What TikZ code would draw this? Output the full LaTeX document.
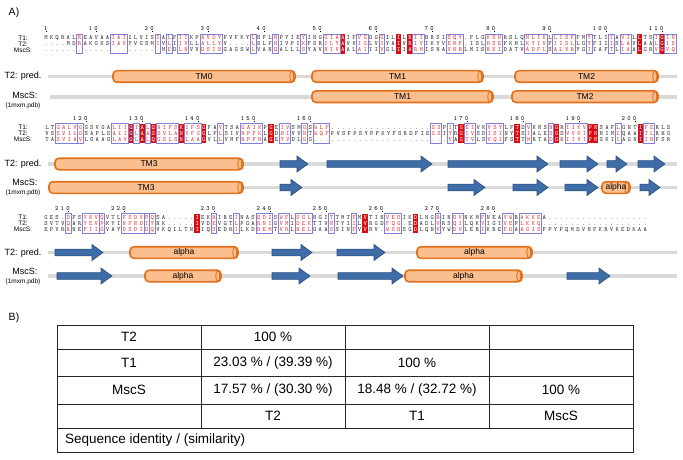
\documentclass[tikz,border=0pt]{standalone}
\usepackage{fontspec}
\setmainfont{Liberation Sans}
\usepackage{xcolor}
\usepackage{tikz}
\definecolor{seqgray}{HTML}{2E2E2E}
\definecolor{simred}{HTML}{E23A3A}
\definecolor{idred}{HTML}{D80C12}
\definecolor{framebl}{HTML}{8080DC}
\definecolor{helixfill}{HTML}{FBBE8E}
\definecolor{helixline}{HTML}{E2701C}
\definecolor{strandfill}{HTML}{3F6DA8}
\definecolor{strandline}{HTML}{2B5080}
\definecolor{trackgray}{HTML}{D9D9D9}
\definecolor{gridink}{HTML}{262626}

\newcommand\seqfont{\ttfamily\fontsize{6.4}{7}\selectfont}

% one residue per column, coloured by the marks of the current block
\newcount\colno
\def\seqloop#1{\ifx#1\relax\else\global\advance\colno by 1 %
  \ifcsname id@\blk @\the\colno\endcsname\hbox to 5.6pt{\hss\color{white}#1\hss}%
  \else\ifcsname sim@\blk @\the\colno\endcsname\hbox to 5.6pt{\hss\color{simred}#1\hss}%
  \else\hbox to 5.6pt{\hss#1\hss}\fi\fi\expandafter\seqloop\fi}
\newcommand\seqline[1]{\global\colno=0 \expandafter\seqloop#1\relax}
\def\rulerloop#1{\ifx#1\relax\else\hbox to 5.6pt{\hss#1\hss}\expandafter\rulerloop\fi}
\newcommand\rulerline[1]{\expandafter\rulerloop#1\relax}

\tikzset{
  panel/.style={font=\fontsize{10.5}{10.5}\selectfont, inner sep=0pt},
  seqtxt/.style={anchor=base west, inner sep=0pt, font=\seqfont, text=seqgray},
  ruler/.style={anchor=base east, inner sep=0pt, font=\seqfont, text=black},
  rulertick/.style={line width=0.4pt},
  seqname/.style={font=\fontsize{6.5}{6.5}\selectfont, inner sep=0pt},
  trackname/.style={font=\fontsize{9}{9}\selectfont, inner sep=0pt},
  pdbname/.style={font=\fontsize{6.5}{6.5}\selectfont, inner sep=0pt},
  track/.style={draw=trackgray, line width=3.6pt},
  helixbar/.style={draw=helixline, fill=helixfill, line width=1.6pt, rounded corners=4pt},
  helixcap/.style={draw=helixline, line width=0.9pt},
  helixlab/.style={font=\fontsize{8.5}{8.5}\selectfont, inner sep=0pt},
  strand/.style={draw=strandline, fill=strandfill, line width=0.6pt},
  simframe/.style={draw=framebl, line width=0.6pt},
  cell/.style={font=\fontsize{13.5}{13.5}\selectfont, inner sep=0pt},
  grid/.style={draw=gridink, line width=0.8pt}
}

% #1 id, #2 x of column 1, #3 y of T1 row, #4-#6 rows, #7 frames, #8 identical columns, #9 ruler
\newcommand\alignblock[9]{%
  \def\blk{#1}\def\rowA{#4}\def\rowB{#5}\def\rowC{#6}%
  \pgfmathsetmacro\ftop{#3-3.8}%
  \pgfmathsetmacro\fbot{#3+15.8}%
  \foreach \a/\b in {#7}{\foreach \k in {\a,...,\b}{\expandafter\gdef\csname sim@#1@\k\endcsname{}}}%
  \foreach \a in {#8}{\expandafter\gdef\csname id@#1@\a\endcsname{}}%
  \foreach \a in {#8}
    \fill[idred] ({#2+(\a-1)*5.6},\ftop) rectangle ({#2+\a*5.6},\fbot);
  \foreach \a/\b in {#7}
    \draw[simframe] ({#2+(\a-1)*5.6},\ftop) rectangle ({#2+\b*5.6},\fbot);
  \node[seqname] (#1nT1) at (23,#3) {T1:};
  \node[seqname] (#1nT2) at (23,{#3+6}) {T2:};
  \node[seqname] (#1nMS) at (23,{#3+12}) {MscS:};
  \node[seqtxt] (#1T1) at (#2,{#3+2}) {\seqline\rowA};
  \node[seqtxt] (#1T2) at (#2,{#3+8}) {\seqline\rowB};
  \node[seqtxt] (#1MS) at (#2,{#3+14}) {\seqline\rowC};
  \foreach \c/\n in {#9}{
    \node[ruler] (#1r\n) at ({#2+\c*5.6},{#3-7.5}) {\rulerline\n};
    \draw[rulertick] ({#2+(\c-0.5)*5.6},{#3-6.9}) -- ++(0,1.2);
  }%
}

\newcommand\helix[5]{%
  \draw[helixbar] (#1,{#3-5.8}) rectangle (#2,{#3+5.8});
  \draw[helixcap] ({#2-3.2},#3) ellipse [x radius=2pt, y radius=5.6pt];
  \node[helixlab] (#5) at ({(#1+#2)/2},#3) {#4};
}
\newcommand\strand[3]{%
  \filldraw[strand] (#1,{#3-3.4}) -- ({#2-11},{#3-3.4}) -- ({#2-11},{#3-8}) -- (#2,#3)
    -- ({#2-11},{#3+8}) -- ({#2-11},{#3+3.4}) -- (#1,{#3+3.4}) -- cycle;
}

\begin{document}
\begin{tikzpicture}[x=1pt,y=-1pt]
  \useasboundingbox (0,0) rectangle (683,460);
  \node[panel] (pA) at (14,13) {A)};
  \node[panel] (pB) at (14,318) {B)};

  % first block, residues 1-112
  \alignblock{bA}{43}{38}
    {MKQRALREAVAAIAIILVISIALFIIKPAVDYFVFKYLNFLHPYIEYINGGIAAIFVGGGGILILRIIRRSISQY.FLGKSNRSLQNLIKLLISFFMYTLIIAVILLTSIGIN}
    {....MDRAKGKSIAVYVGSMIVLIIVLLALLYV....LSLFHIVPIKFSRILYAVVIGLVIYAIVRIVIKYVERF.ISLHSEFKHLKYIVFIISLLGYFIIISLAVLAALGID}
    {.....................MEDLNVVDSINGAGSWLVANQALLLSYAVNIVAALAIIIVGLIIARMISNAVNRLMISRKIDATVADFLSALVRYGIIAFTLIAALGRVGVQ}
    {7/7,13/15,21/21,23/23,25/26,29/32,38/38,42/42,47/47,51/53,57/58,61/61,67/68,73/75,80/82,87/90,92/95,98/98,102/102,104/105,110/110,112/113}
    {54,64,66,107,111}
    {1/1,10/10,20/20,30/30,40/40,50/50,60/60,70/70,81/80,91/90,101/100,111/110}

  \node[trackname] (bApred) at (23,76) {T2: pred.};
  \node[trackname] (bAms) at (25,95) {MscS:};
  \node[pdbname] (bApdb) at (23,106) {(1mxm.pdb)};
  \draw[track] (48,76.5) -- (677,76.5);
  \draw[track] (50,96.7) -- (677,96.7);
  \helix{113}{295}{76.5}{TM0}{bAh0}
  \helix{312}{483}{76.5}{TM1}{bAh1}
  \helix{515}{658}{76.5}{TM2}{bAh2}
  \helix{312}{493}{96.7}{TM1}{bAm1}
  \helix{512}{658}{96.7}{TM2}{bAm2}

  % second block, residues 113-206
  \alignblock{bB}{44}{127.5}
    {LTGALVGGSVGALIIGIALQNIFSKIFSGFAVTSAGAIKPGEIVSMGSWLF..................GSPITGEIVKVSYLFTDVKNSNGRIIKVPNSAFLGNTIFERLS}
    {VSSVILGSAPLSAIIGLAAGSVLANVFGGLFLSIVRPFKLGDHIVVNTWQFPVSFPSYPPKYFSRDFIEGSIYRGIVSDISINYTSIALESGDVVKIPNNIMIQAAITLRHG}
    {TASVIAVLGAAGLAVGLALQGSLSNLAAGVLLVMFRPFRAGEYVDLGG........................VAGTVLSVQIFSTTMRTADGKIIVIPNGKIIAGNIINFSR}
    {3/6,7/7,13/15,17/17,19/19,21/24,26/28,32/32,36/39,43/44,47/47,49/51,70/71,73/73,76/77,80/82,87/87,91/91,94/97,103/103,108/109}
    {16,18,20,25,29,41,75,85,92,98,99,107}
    {8/120,18/130,28/140,38/150,48/160,76/170,86/180,96/190,106/200}

  \node[trackname] (bBpred) at (23,164) {T2: pred.};
  \node[trackname] (bBms) at (25,182.7) {MscS:};
  \node[pdbname] (bBpdb) at (23,193.3) {(1mxm.pdb)};
  \draw[track] (48,164) -- (677,164);
  \draw[track] (48,187.5) -- (677,187.5);
  \helix{55}{243}{164}{TM3}{bBh3}
  \strand{280}{308}{164}
  \strand{327}{432}{164}
  \strand{448}{548}{164}
  \strand{560}{598}{164}
  \strand{607}{627}{164}
  \strand{638}{665}{164}
  \helix{49}{243}{187.5}{TM3}{bBm3}
  \strand{280}{302}{187.5}
  \strand{448}{485}{187.5}
  \strand{513}{548}{187.5}
  \strand{565}{598}{187.5}
  \helix{602}{630}{187.5}{alpha}{bBma}
  \strand{640}{660}{187.5}

  % third block, residues 207-290
  \alignblock{bC}{43}{217.5}
    {GES.DFSYNVQVTLFSDVPQSA.....IEKHIREINASQDISWFLSGLNGITTMTFMVTINVEDIKDLNGRINDVNKMFNEAYWRAKKEA..................}
    {SVTVQARYEVPKYINFNDIYNK.....IVDEVGTLPGARNIGVMIDEKTTVNTYIILVRGDFQG.EDADLVRSQILQKVIGIVEPLKKQ...................}
    {EPVRRNEFIIGVAYDSDIDQVKQILTNIIQSEDRILKDREMTVRLNELGAASSINFVVRV.WSNSGDLQNVYWDVLERIKREFDAAGISFPYPQMDVNFKRVKEDKAA}
    {5/5,8/10,11/11,15/18,19/19,20/20,31/31,35/35,39/41,43/44,46/48,52/52,56/56,62/64,71/71,74/75,79/79,83/84,86/89}
    {28,58,67}
    {5/210,15/220,31/230,41/240,51/250,61/260,71/270,81/280}

  \node[trackname] (bCpred) at (23,252.7) {T2: pred.};
  \node[trackname] (bCms) at (25,271.7) {MscS:};
  \node[pdbname] (bCpdb) at (23,281.7) {(1mxm.pdb)};
  \draw[track] (48,252.5) -- (677,252.5);
  \draw[track] (48,276) -- (677,276);
  \strand{55}{103}{252.5}
  \helix{130}{238}{252.5}{alpha}{bCh1}
  \strand{272}{312}{252.5}
  \strand{337}{385}{252.5}
  \helix{417}{532}{252.5}{alpha}{bCh2}
  \strand{57}{112}{276}
  \helix{145}{221}{276}{alpha}{bCm1}
  \strand{272}{310}{276}
  \strand{338}{403}{276}
  \helix{405}{522}{276}{alpha}{bCm2}
  \strand{567}{610}{276}

  % identity table
  \draw[grid] (57,325) rectangle (633,452);
  \foreach \yy in {349,376.5,404,428} \draw[grid] (57,\yy) -- (633,\yy);
  \foreach \xx in {201,345,489} \draw[grid] (\xx,325) -- (\xx,428);
  \node[cell] (rowT2) at (129,337) {T2};
  \node[cell] (T2T2) at (273,337) {100 \%};
  \node[cell] (rowT1) at (129,362.75) {T1};
  \node[cell] (T1T2) at (273,362.75) {23.03 \% / (39.39 \%)};
  \node[cell] (T1T1) at (417,362.75) {100 \%};
  \node[cell] (rowMS) at (129,390.25) {MscS};
  \node[cell] (MST2) at (273,390.25) {17.57 \% / (30.30 \%)};
  \node[cell] (MST1) at (417,390.25) {18.48 \% / (32.72 \%)};
  \node[cell] (MSMS) at (561,390.25) {100 \%};
  \node[cell] (colT2) at (273,416) {T2};
  \node[cell] (colT1) at (417,416) {T1};
  \node[cell] (colMS) at (561,416) {MscS};
  \node[cell, anchor=west] (legend) at (65,440) {Sequence identity / (similarity)};
\end{tikzpicture}
\end{document}
